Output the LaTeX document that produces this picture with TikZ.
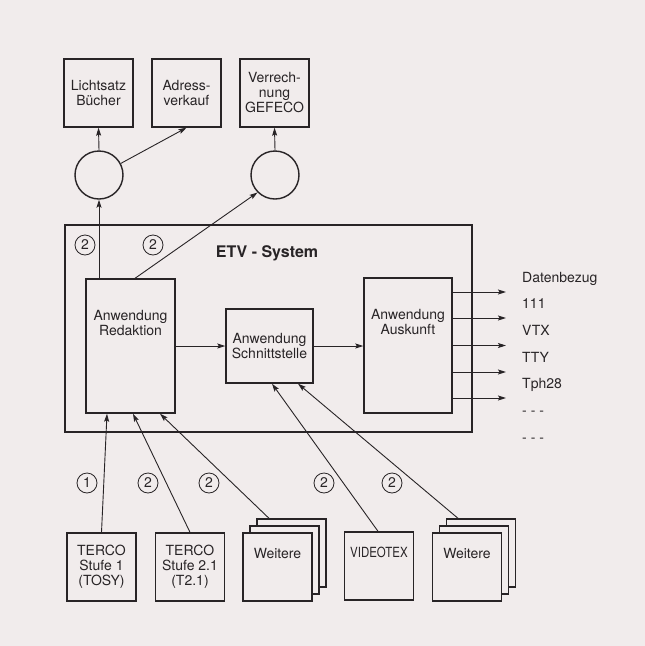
\documentclass[tikz,border=0pt]{standalone}
\usepackage{fontspec}
\setmainfont{TeX Gyre Heros}
\usetikzlibrary{positioning,arrows.meta}

\definecolor{paper}{RGB}{241,236,236}
\definecolor{ink}{RGB}{40,36,38}

\tikzset{
  box/.style={draw=ink, line width=1.4pt, fill=paper, text=ink, align=center, inner sep=0pt, minimum width=69pt, minimum height=68pt},
  topbox/.style={box, text height=25pt, text depth=43pt},
  hub/.style={circle, draw=ink, line width=1.4pt, minimum size=48pt, inner sep=0pt},
  num/.style={circle, draw=ink, line width=0.8pt, text=ink, minimum size=20pt, inner sep=0pt},
  txt/.style={text=ink, align=center, inner sep=0pt},
  arr/.style={draw=ink, line width=0.9pt, -{Stealth[length=8pt, width=5pt, inset=1.5pt]}},
}

\begin{document}
\begin{tikzpicture}[x=1pt, y=-1pt]

\fontsize{14}{15}\selectfont
\fill [paper] (0,0) rectangle (645,646);
\useasboundingbox (0,0) rectangle (645,646);

% oben
\node [box] (lich) at (98.5,93) {Lichtsatz\\Bücher};
\node [box] (adr) at (186.5,93) {Adress-\\verkauf};
\node [box] (ver) at (274.5,93) {Verrech-\\nung\\GEFECO};
\node [hub] (hubL) at (99,175) {};
\node [hub] (hubR) at (275,175) {};

\draw [arr] (hubL.north) -- (lich.south);
\draw [arr] (hubL.28) -- (adr.south);
\draw [arr] (hubR.north) -- (ver.south);

% ETV
\node [box, minimum width=407pt, minimum height=207pt] (etv) at (268.5,328.5) {};
\node [txt, font=\fontsize{16}{16}\selectfont\bfseries] (etvt) at (267,253) {ETV - System};

\node [box, minimum width=89pt, minimum height=134pt] (red) at (130.5,346) {};
\node [txt] (redt) at ([yshift=-45pt]red.north) {Anwendung\\Redaktion};
\node [box, minimum width=87pt, minimum height=74pt] (sch) at (269.5,346) {Anwendung\\Schnittstelle};
\node [box, minimum width=88pt, minimum height=135pt] (ausk) at (408,345.5) {};
\node [txt] (auskt) at ([yshift=-45pt]ausk.north) {Anwendung\\Auskunft};

\draw [arr] (red.north -| hubL) -- (hubL.south);
\draw [arr] ([xshift=4.5pt]red.north) -- (hubR.225);
\draw [arr] (red.east) -- (sch.west);
\draw [arr] (sch.east) -- (sch.east -| ausk.west);

\node [num] (n1) at (85,245) {2};
\node [num] (n2) at (153,245) {2};

\foreach \y [count=\k] in {292,318,345.5,372,398} {
  \coordinate (out\k) at (506,\y);
  \draw [arr] (ausk.east |- out\k) -- (out\k);
}
\foreach \t [count=\k] in {Datenbezug,111,VTX,TTY,Tph28,{- - -},{- - -}} {
  \node [txt, anchor=base west] (lab\k) at (522,{282+26.7*(\k-1)}) {\t};
}

% unten
\node [box] (ter1) at (101.5,567) {TERCO\\Stufe 1\\(TOSY)};
\node [box] (ter2) at (190,567) {TERCO\\Stufe 2.1\\(T2.1)};
\node [topbox] (wei1c) at (291.5,553) {};
\node [topbox] (wei1b) at (284.5,560) {};
\node [topbox] (wei1) at (277.5,567) {Weitere};
\node [topbox] (vid) at (379,566) {\scalebox{0.82}[1]{VIDEOTEX}};
\node [topbox] (wei2c) at (481,553) {};
\node [topbox] (wei2b) at (474,560) {};
\node [topbox] (wei2) at (467,567) {Weitere};

\draw [arr] (ter1.north) -- ([xshift=-23.5pt]red.south);
\draw [arr] (ter2.north) -- ([xshift=2.5pt]red.south);
\draw [arr] ([xshift=-22.5pt]wei1c.north) -- ([xshift=29.5pt]red.south);
\draw [arr] ([xshift=-1pt]vid.north) -- ([xshift=2.5pt]sch.south);
\draw [arr] ([xshift=-23pt]wei2c.north) -- ([xshift=28.5pt]sch.south);

\node [num] (n3) at (87,483) {1};
\node [num] (n4) at (148,483) {2};
\node [num] (n5) at (209,483) {2};
\node [num] (n6) at (324,483) {2};
\node [num] (n7) at (392,483) {2};

\end{tikzpicture}
\end{document}
